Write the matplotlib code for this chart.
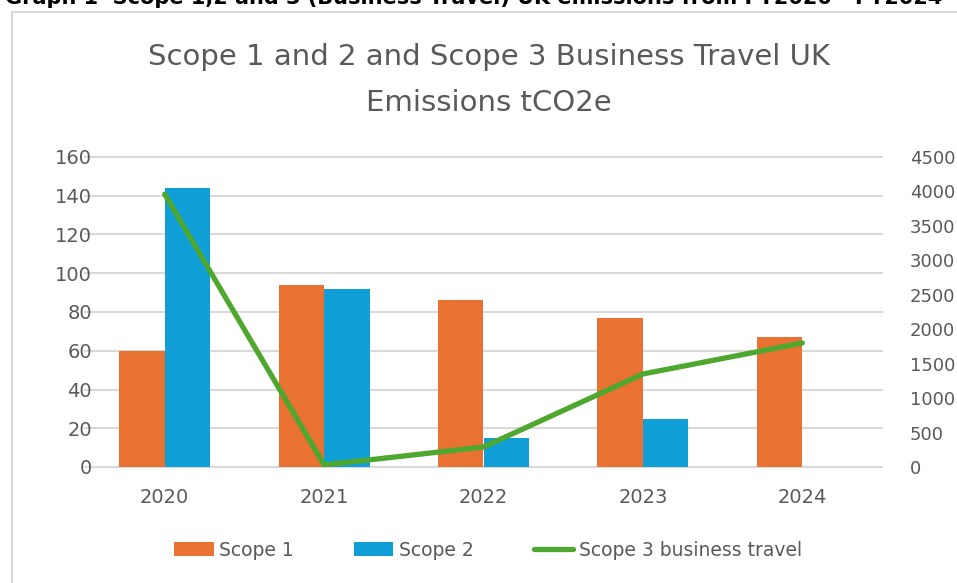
import matplotlib.pyplot as plt
import matplotlib.patches as mpatches
import numpy as np

years = ['2020', '2021', '2022', '2023', '2024']
scope1 = [60, 94, 86, 77, 67]
scope2 = [144, 92, 15, 25, 0]
scope3_travel = [3960, 30, 290, 1350, 1800]

orange = '#e97132'
blue = '#0f9ed5'
green = '#4ea72e'
grey_txt = '#595959'

fig = plt.figure(figsize=(9.57, 5.83), dpi=100)

# outer chart frame (cut by the page edges like the screenshot)
fig.patches.append(mpatches.Rectangle((12/957, -0.05), 1.0, 1 - 12/583 + 0.05,
                                      transform=fig.transFigure, fill=False,
                                      edgecolor='#d0d0d0', linewidth=1.2))
# heading of the page, cut off at the top like in the screenshot
fig.text(0.005, 1 + 2/583, 'Graph 1  Scope 1,2 and 3 (Business Travel) UK emissions from FY2020 - FY2024',
         fontsize=15, fontweight='bold', va='center', ha='left', color='black')

ax = fig.add_axes([85/957, 1 - 467/583, (882 - 85)/957, (467 - 157)/583])
ax2 = ax.twinx()

x = np.arange(len(years))
w = 0.285
ax.bar(x - w/2, scope1, w, color=orange, label='Scope 1', zorder=2)
ax.bar(x + w/2, scope2, w, color=blue, label='Scope 2', zorder=2)
ax2.plot(x, scope3_travel, color=green, linewidth=3.8, solid_capstyle='round',
         label='Scope 3 business travel', zorder=3)

ax.set_xlim(-0.5, 4.5)
ax.set_ylim(0, 160)
ax.set_yticks(range(0, 161, 20))
ax2.set_ylim(0, 4500)
ax2.set_yticks(range(0, 4501, 500))
ax.set_xticks(x)
ax.set_xticklabels(years)

ax.grid(axis='y', color='#d9d9d9', linewidth=1.5, zorder=0)
for g in ax.get_ygridlines():
    g.set_clip_on(False)
ax.set_axisbelow(True)
for a in (ax, ax2):
    for s in a.spines.values():
        s.set_visible(False)
    a.tick_params(length=0, labelsize=14, colors=grey_txt)
ax.tick_params(axis='y', pad=-5)
ax.tick_params(axis='x', pad=15)
ax2.tick_params(axis='y', pad=20, labelsize=13)

fig.text(489/957, 1 - 57/583, 'Scope 1 and 2 and Scope 3 Business Travel UK',
         fontsize=21, color=grey_txt, ha='center', va='center')
fig.text(489/957, 1 - 103/583, 'Emissions tCO2e',
         fontsize=21, color=grey_txt, ha='center', va='center')

h1, l1 = ax.get_legend_handles_labels()
h2, l2 = ax2.get_legend_handles_labels()
fig.legend(h1 + h2, l1 + l2, loc='center', bbox_to_anchor=(488/957, 1 - 550/583),
           ncol=3, frameon=False, fontsize=13.5, labelcolor=grey_txt,
           handlelength=2.1, handleheight=0.75, columnspacing=3.2, handletextpad=0.3)

fig.savefig('out.png', dpi=100)
